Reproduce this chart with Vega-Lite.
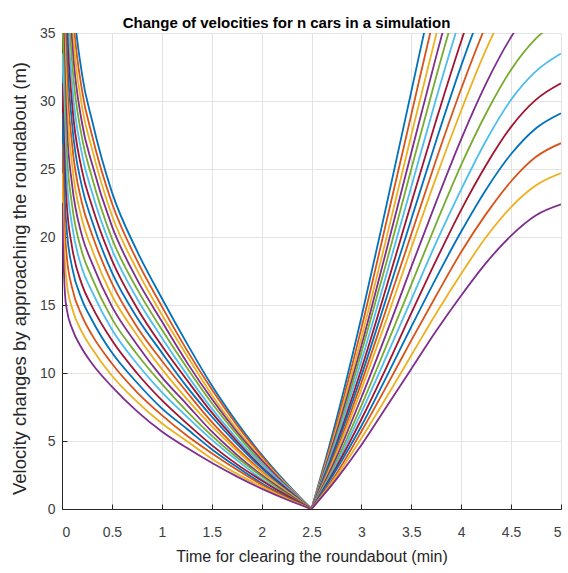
{
  "$schema": "https://vega.github.io/schema/vega-lite/v6.json",
  "autosize": {"type": "none"},
  "width": 499,
  "height": 476,
  "padding": {"left": 62, "top": 33, "right": 7, "bottom": 64},
  "background": "white",
  "title": {"text": "Change of velocities for n cars in a simulation", "font": "Liberation Sans", "fontSize": 15, "fontWeight": "bold", "color": "#000000", "anchor": "middle", "dx": -25, "offset": -5},
  "data": {"values": [
    {"s":"L","t":0,"c01":66.9,"c02":63.2,"c03":59.8,"c04":57.0,"c05":54.4,"c06":51.7,"c07":49.0,"c08":46.4,"c09":44.0,"c10":41.8,"c11":38.7,"c12":36.0,"c13":33.5,"c14":31.3,"c15":29.1,"c16":26.9,"c17":24.7,"c18":22.5},
    {"s":"L","t":0.01,"c01":62,"c02":59.5,"c03":57.0,"c04":54.5,"c05":52.0,"c06":49.5,"c07":47.0,"c08":44.5,"c09":42.0,"c10":39.5,"c11":37.0,"c12":34.5,"c13":32.0,"c14":29.5,"c15":27.0,"c16":24.5,"c17":22.0,"c18":19.5},
    {"s":"L","t":0.03,"c01":54,"c02":51.7,"c03":49.5,"c04":47.3,"c05":45.0,"c06":42.8,"c07":40.5,"c08":38.3,"c09":36.0,"c10":33.8,"c11":31.5,"c12":29.3,"c13":27.0,"c14":24.8,"c15":22.5,"c16":20.3,"c17":18.1,"c18":15.8},
    {"s":"L","t":0.05,"c01":47,"c02":45.1,"c03":43.2,"c04":41.3,"c05":39.4,"c06":37.5,"c07":35.6,"c08":33.7,"c09":31.7,"c10":29.9,"c11":27.9,"c12":26.0,"c13":24.1,"c14":22.2,"c15":20.3,"c16":18.4,"c17":16.5,"c18":14.6},
    {"s":"L","t":0.1,"c01":39,"c02":37.5,"c03":36.0,"c04":34.5,"c05":33.0,"c06":31.4,"c07":29.9,"c08":28.4,"c09":26.9,"c10":25.4,"c11":23.9,"c12":22.4,"c13":20.9,"c14":19.3,"c15":17.8,"c16":16.3,"c17":14.8,"c18":13.3},
    {"s":"L","t":0.2,"c01":32,"c02":30.8,"c03":29.6,"c04":28.4,"c05":27.3,"c06":26.1,"c07":24.9,"c08":23.7,"c09":22.5,"c10":21.3,"c11":20.1,"c12":18.9,"c13":17.7,"c14":16.5,"c15":15.4,"c16":14.2,"c17":13.0,"c18":11.8},
    {"s":"L","t":0.3,"c01":28.6,"c02":27.5,"c03":26.5,"c04":25.4,"c05":24.4,"c06":23.3,"c07":22.3,"c08":21.2,"c09":20.2,"c10":19.1,"c11":18.1,"c12":17.0,"c13":16.0,"c14":14.9,"c15":13.9,"c16":12.8,"c17":11.8,"c18":10.7},
    {"s":"L","t":0.5,"c01":23.3,"c02":22.5,"c03":21.6,"c04":20.8,"c05":19.9,"c06":19.1,"c07":18.3,"c08":17.4,"c09":16.6,"c10":15.7,"c11":14.9,"c12":14.0,"c13":13.2,"c14":12.4,"c15":11.5,"c16":10.7,"c17":9.8,"c18":9.0},
    {"s":"L","t":0.75,"c01":19.0,"c02":18.3,"c03":17.6,"c04":16.9,"c05":16.2,"c06":15.5,"c07":14.8,"c08":14.1,"c09":13.4,"c10":12.8,"c11":12.1,"c12":11.4,"c13":10.7,"c14":10.0,"c15":9.3,"c16":8.6,"c17":7.9,"c18":7.2},
    {"s":"L","t":1,"c01":15.5,"c02":14.9,"c03":14.3,"c04":13.8,"c05":13.2,"c06":12.6,"c07":12.0,"c08":11.5,"c09":10.9,"c10":10.3,"c11":9.7,"c12":9.2,"c13":8.6,"c14":8.0,"c15":7.4,"c16":6.9,"c17":6.3,"c18":5.7},
    {"s":"L","t":1.25,"c01":12.2,"c02":11.7,"c03":11.3,"c04":10.8,"c05":10.4,"c06":9.9,"c07":9.5,"c08":9.0,"c09":8.6,"c10":8.1,"c11":7.7,"c12":7.2,"c13":6.8,"c14":6.3,"c15":5.9,"c16":5.4,"c17":5.0,"c18":4.5},
    {"s":"L","t":1.5,"c01":9.1,"c02":8.8,"c03":8.4,"c04":8.1,"c05":7.8,"c06":7.4,"c07":7.1,"c08":6.8,"c09":6.4,"c10":6.1,"c11":5.7,"c12":5.4,"c13":5.1,"c14":4.7,"c15":4.4,"c16":4.1,"c17":3.7,"c18":3.4},
    {"s":"L","t":1.75,"c01":6.4,"c02":6.2,"c03":5.9,"c04":5.7,"c05":5.5,"c06":5.2,"c07":5.0,"c08":4.8,"c09":4.5,"c10":4.3,"c11":4.0,"c12":3.8,"c13":3.6,"c14":3.3,"c15":3.1,"c16":2.9,"c17":2.6,"c18":2.4},
    {"s":"L","t":2,"c01":4.0,"c02":3.9,"c03":3.7,"c04":3.6,"c05":3.4,"c06":3.3,"c07":3.1,"c08":3.0,"c09":2.8,"c10":2.7,"c11":2.5,"c12":2.4,"c13":2.2,"c14":2.1,"c15":1.9,"c16":1.8,"c17":1.65,"c18":1.5},
    {"s":"L","t":2.25,"c01":1.9,"c02":1.8,"c03":1.8,"c04":1.7,"c05":1.6,"c06":1.6,"c07":1.5,"c08":1.4,"c09":1.3,"c10":1.3,"c11":1.2,"c12":1.1,"c13":1.0,"c14":1.0,"c15":0.9,"c16":0.85,"c17":0.77,"c18":0.7},
    {"s":"L","t":2.5,"c01":0,"c02":0,"c03":0,"c04":0,"c05":0,"c06":0,"c07":0,"c08":0,"c09":0,"c10":0,"c11":0,"c12":0,"c13":0,"c14":0,"c15":0,"c16":0,"c17":0,"c18":0},
    {"s":"R","t":2.5,"c01":0,"c02":0,"c03":0,"c04":0,"c05":0,"c06":0,"c07":0,"c08":0,"c09":0,"c10":0,"c11":0,"c12":0,"c13":0,"c14":0,"c15":0,"c16":0,"c17":0,"c18":0},
    {"s":"R","t":2.75,"c01":6.6,"c02":6.2,"c03":5.9,"c04":5.6,"c05":5.3,"c06":5.1,"c07":4.8,"c08":4.6,"c09":4.3,"c10":4.1,"c11":3.8,"c12":3.5,"c13":3.3,"c14":3.1,"c15":2.9,"c16":2.6,"c17":2.4,"c18":2.2},
    {"s":"R","t":3,"c01":14.1,"c02":13.3,"c03":12.6,"c04":12.0,"c05":11.5,"c06":10.9,"c07":10.3,"c08":9.8,"c09":9.3,"c10":8.8,"c11":8.2,"c12":7.6,"c13":7.1,"c14":6.6,"c15":6.1,"c16":5.7,"c17":5.2,"c18":4.7},
    {"s":"R","t":3.25,"c01":22.3,"c02":21.1,"c03":19.9,"c04":19.0,"c05":18.1,"c06":17.2,"c07":16.3,"c08":15.5,"c09":14.7,"c10":13.9,"c11":12.9,"c12":12.0,"c13":11.2,"c14":10.4,"c15":9.7,"c16":9.0,"c17":8.2,"c18":7.5},
    {"s":"R","t":3.5,"c01":30.7,"c02":29.0,"c03":27.5,"c04":26.2,"c05":25.0,"c06":23.7,"c07":22.5,"c08":21.3,"c09":20.2,"c10":19.2,"c11":17.8,"c12":16.5,"c13":15.4,"c14":14.4,"c15":13.4,"c16":12.4,"c17":11.3,"c18":10.3},
    {"s":"R","t":3.75,"c01":39.1,"c02":36.9,"c03":34.9,"c04":33.3,"c05":31.8,"c06":30.2,"c07":28.6,"c08":27.1,"c09":25.7,"c10":24.4,"c11":22.6,"c12":21.0,"c13":19.6,"c14":18.3,"c15":17.0,"c16":15.7,"c17":14.4,"c18":13.1},
    {"s":"R","t":4,"c01":47.0,"c02":44.4,"c03":42.0,"c04":40.0,"c05":38.2,"c06":36.3,"c07":34.4,"c08":32.6,"c09":30.9,"c10":29.3,"c11":27.2,"c12":25.3,"c13":23.5,"c14":22.0,"c15":20.4,"c16":18.9,"c17":17.3,"c18":15.7},
    {"s":"R","t":4.25,"c01":54.1,"c02":51.1,"c03":48.3,"c04":46.1,"c05":44.0,"c06":41.8,"c07":39.6,"c08":37.5,"c09":35.6,"c10":33.8,"c11":31.3,"c12":29.1,"c13":27.1,"c14":25.3,"c15":23.5,"c16":21.7,"c17":20.0,"c18":18.1},
    {"s":"R","t":4.5,"c01":60.0,"c02":56.7,"c03":53.6,"c04":51.1,"c05":48.8,"c06":46.4,"c07":44.0,"c08":41.6,"c09":39.5,"c10":37.5,"c11":34.7,"c12":32.3,"c13":30.1,"c14":28.1,"c15":26.1,"c16":24.1,"c17":22.2,"c18":20.1},
    {"s":"R","t":4.75,"c01":64.4,"c02":60.8,"c03":57.5,"c04":54.8,"c05":52.3,"c06":49.7,"c07":47.1,"c08":44.6,"c09":42.3,"c10":40.2,"c11":37.2,"c12":34.6,"c13":32.2,"c14":30.1,"c15":28.0,"c16":25.9,"c17":23.8,"c18":21.6},
    {"s":"R","t":5,"c01":66.9,"c02":63.2,"c03":59.8,"c04":57.0,"c05":54.4,"c06":51.7,"c07":49.0,"c08":46.4,"c09":44.0,"c10":41.8,"c11":38.7,"c12":36.0,"c13":33.5,"c14":31.3,"c15":29.1,"c16":26.9,"c17":24.7,"c18":22.4}
  ]},
  "transform": [
    {"fold": ["c01","c02","c03","c04","c05","c06","c07","c08","c09","c10","c11","c12","c13","c14","c15","c16","c17","c18"], "as": ["k", "v"]}
  ],
  "mark": {"type": "line", "clip": true, "interpolate": "monotone", "strokeWidth": 1.8},
  "encoding": {
    "x": {"field": "t", "type": "quantitative", "scale": {"domain": [0, 5], "nice": false, "zero": false},
      "axis": {"values": [0,0.5,1,1.5,2,2.5,3,3.5,4,4.5,5], "format": "~g", "title": "Time for clearing the roundabout (min)", "labelPadding": 21, "titlePadding": 9, "titleFontSize": 16, "labelFontSize": 14}},
    "y": {"field": "v", "type": "quantitative", "scale": {"domain": [0, 35], "nice": false},
      "axis": {"values": [0,5,10,15,20,25,30,35], "title": "Velocity changes by approaching the roundabout (m)", "labelPadding": 12, "titlePadding": 10, "titleFontSize": 18.5, "titleY": 245, "labelFontSize": 14}},
    "color": {"field": "k", "type": "nominal", "legend": null,
      "scale": {"domain": ["c01","c02","c03","c04","c05","c06","c07","c08","c09","c10","c11","c12","c13","c14","c15","c16","c17","c18"],
        "range": ["#0072BD","#D95319","#EDB120","#7E2F8E","#77AC30","#4DBEEE","#A2142F","#0072BD","#D95319","#EDB120","#7E2F8E","#77AC30","#4DBEEE","#A2142F","#0072BD","#D95319","#EDB120","#7E2F8E"]}},
    "detail": {"field": "s", "type": "nominal"}
  },
  "config": {
    "view": {"stroke": null},
    "axis": {"domainColor": "#262626", "tickColor": "#262626", "labelColor": "#404040", "titleColor": "#262626", "gridColor": "#e3e3e3", "grid": true, "labelFont": "Liberation Sans", "titleFont": "Liberation Sans", "titleFontWeight": "normal", "tickSize": -5}
  }
}
